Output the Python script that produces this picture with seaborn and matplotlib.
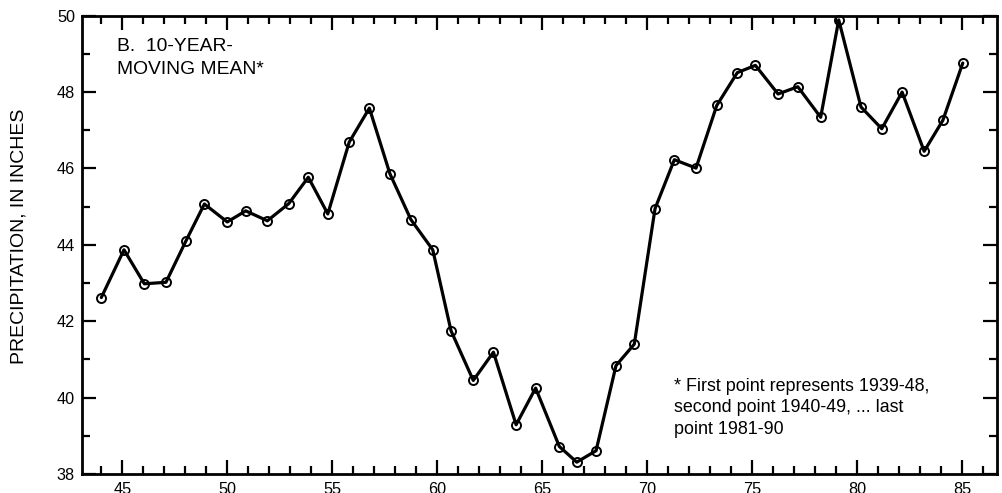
import matplotlib
matplotlib.use("Agg")
import matplotlib.pyplot as plt
from matplotlib.ticker import MultipleLocator
import seaborn as sns
import pandas as pd

# Plotting positions (year of the 1900s) for each 10-year window
year_pos = [44.0, 45.08, 46.05, 47.08, 48.02, 48.91, 50.0, 50.88, 51.91, 52.93,
            53.86, 54.79, 55.81, 56.77, 57.75, 58.75, 59.79, 60.66, 61.72, 62.68,
            63.76, 64.69, 65.82, 66.65, 67.57, 68.52, 69.39, 70.38, 71.30, 72.33,
            73.32, 74.30, 75.16, 76.24, 77.18, 78.27, 79.13, 80.19, 81.18, 82.15,
            83.2, 84.09, 85.04]

# 10-year moving mean precipitation, inches
precip_mean = [42.62, 43.87, 42.98, 43.02, 44.09, 45.07, 44.60, 44.89, 44.63, 45.08,
               45.77, 44.81, 46.69, 47.58, 45.86, 44.66, 43.87, 41.75, 40.45, 41.19,
               39.29, 40.25, 38.72, 38.31, 38.61, 40.84, 41.40, 44.95, 46.23, 46.01,
               47.65, 48.51, 48.70, 47.95, 48.14, 47.34, 49.89, 47.61, 47.04, 48.00,
               46.45, 47.26, 48.76]

x_ticks = [45, 50, 55, 60, 65, 70, 75, 80, 85]
y_ticks = [38, 40, 42, 44, 46, 48, 50]

panel_lines = ["B.  10-YEAR-", "MOVING MEAN*"]
note_lines = ["* First point represents 1939-48,",
              "second point 1940-49, ... last",
              "point 1981-90"]

sns.set_theme(style="ticks")
plt.rcParams["font.family"] = ["Liberation Sans", "DejaVu Sans"]

df = pd.DataFrame({"year": year_pos, "precip": precip_mean})

W, H = 1003, 493
fig = plt.figure(figsize=(W / 100, H / 100), dpi=100)
ax = fig.add_axes([82 / W, 1 - 474 / H, (997 - 82) / W, (474 - 15.7) / H])

sns.lineplot(data=df, x="year", y="precip", ax=ax, color="black", lw=2.3,
             marker="o", markersize=6.5, markerfacecolor="none",
             markeredgecolor="black", markeredgewidth=1.4, clip_on=False)

ax.set_xlim(43.08, 86.67)
ax.set_ylim(38, 50)
ax.set_xticks(x_ticks)
ax.set_yticks(y_ticks)
ax.xaxis.set_minor_locator(MultipleLocator(1))
ax.yaxis.set_minor_locator(MultipleLocator(1))
ax.tick_params(which="both", direction="in", top=True, right=True,
               width=1.6, color="black", labelcolor="black", labelsize=11.7)
ax.tick_params(which="major", length=10)
ax.tick_params(which="minor", length=5.5)
ax.tick_params(axis="x", pad=6)
ax.tick_params(axis="y", pad=5)
for s in ax.spines.values():
    s.set_visible(True)
    s.set_linewidth(2.0)
    s.set_color("black")
ax.set_xlabel("")
ax.set_ylabel("")

fig.text(19.5 / W, 1 - 236.5 / H,
         "PRECIPITATION, IN INCHES", rotation=90, ha="center", va="center",
         fontsize=14, color="black")

for i, line in enumerate(panel_lines):
    fig.text(117 / W, 1 - (51 + 23.3 * i) / H, line, ha="left", va="baseline",
             fontsize=13.9, color="black")

for i, line in enumerate(note_lines):
    fig.text(674.3 / W, 1 - (390.7 + 21.7 * i) / H, line, ha="left",
             va="baseline", fontsize=12.9, color="black")

fig.savefig("out.png", dpi=100)
